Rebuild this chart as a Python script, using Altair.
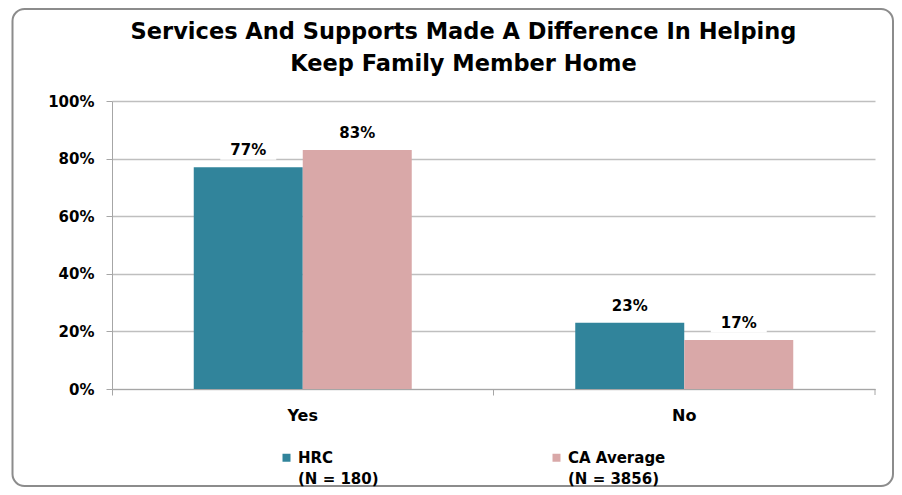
import altair as alt
import pandas as pd

categories = ["Yes", "Yes", "No", "No"]
groups = ["HRC", "CA Average", "HRC", "CA Average"]
values = [0.77, 0.83, 0.23, 0.17]
group_order = ["HRC", "CA Average"]
group_colors = ["#31849B", "#D9A8A8"]
title_lines = ["Services And Supports Made A Difference In Helping", "Keep Family Member Home"]

df = pd.DataFrame({"category": categories, "group": groups, "value": values})

W, H = 763, 288

x_enc = alt.X("category:N", sort=["Yes", "No"], title=None,
              scale=alt.Scale(paddingInner=0, paddingOuter=0),
              axis=alt.Axis(labelAngle=0, labelFont="DejaVu Sans", labelFontWeight="bold",
                            labelFontSize=16, labelColor="#000000", labelPadding=12,
                            bandPosition=0, tickSize=6, tickColor="#A6A6A6",
                            domainColor="#A6A6A6", grid=False))
xoff = alt.XOffset("group:N", sort=group_order,
                   scale=alt.Scale(paddingInner=0, paddingOuter=0.75))
y_enc = alt.Y("value:Q", title=None, scale=alt.Scale(domain=[0, 1], nice=False),
              axis=alt.Axis(values=[0, 0.2, 0.4, 0.6, 0.8, 1.0], format=".0%",
                            labelFont="DejaVu Sans", labelFontWeight="bold", labelFontSize=15,
                            labelColor="#000000", labelPadding=12, tickSize=6,
                            tickColor="#A6A6A6", domainColor="#A6A6A6",
                            gridColor="#BFBFBF", gridWidth=1.3))

legend_expr = ("datum.label == 'HRC' ? ['HRC', '(N = 180)'] : ['CA Average', '(N = 3856)']")

bars = alt.Chart(df).mark_bar().encode(
    x=x_enc, xOffset=xoff, y=y_enc,
    color=alt.Color("group:N", sort=group_order,
                    scale=alt.Scale(domain=group_order, range=group_colors),
                    legend=alt.Legend(orient="none", legendX=167, legendY=349,
                                      direction="horizontal", columns=2, columnPadding=170,
                                      title=None, symbolType="square",
                                      symbolSize=64, symbolStrokeWidth=0,
                                      labelFont="DejaVu Sans", labelFontWeight="bold",
                                      labelFontSize=15, labelColor="#000000",
                                      labelExpr=legend_expr, labelOffset=4,
                                      labelBaseline="middle", padding=0, labelLimit=300)),
)

boxes = alt.Chart(df).mark_point(
    shape="M-1,-0.34H1V0.34H-1Z", filled=True, color="white", opacity=1,
    size=56 * 56, yOffset=-17, strokeWidth=0,
).encode(x=alt.X("category:N", sort=["Yes", "No"]), xOffset=xoff, y="value:Q")

labels = alt.Chart(df).mark_text(
    dy=-17, font="DejaVu Sans", fontWeight="bold", fontSize=15, color="#000000",
    baseline="middle",
).encode(x=alt.X("category:N", sort=["Yes", "No"]), xOffset=xoff, y="value:Q",
         text=alt.Text("value:Q", format=".0%"))

end_tick = alt.Chart(alt.Data(values=[{}])).mark_rule(color="#A6A6A6").encode(
    x=alt.value(W), y=alt.value(H), y2=alt.value(H + 6))

frame = alt.Chart(alt.Data(values=[{}])).mark_rect(
    fill=None, stroke="#8C8C8C", strokeWidth=2, cornerRadius=12,
).encode(x=alt.value(-99.5), x2=alt.value(781), y=alt.value(-92), y2=alt.value(385))

chart = alt.layer(frame, bars, boxes, labels, end_tick).properties(
    width=W, height=H,
    title=alt.Title(title_lines, font="DejaVu Sans", fontWeight="bold", fontSize=22.5,
                    color="#000000", anchor="middle", frame="group", dx=-30,
                    offset=0, dy=67, lineHeight=32),
    autosize=alt.AutoSizeParams(type="none"),
    padding={"left": 104, "top": 93, "right": 19, "bottom": 99},
).configure(
    view=alt.ViewConfig(stroke=None),
    style={"guide-label": {"lineHeight": 21}},
)

chart.save("out.html", embed_options={"renderer": "svg", "actions": False})
